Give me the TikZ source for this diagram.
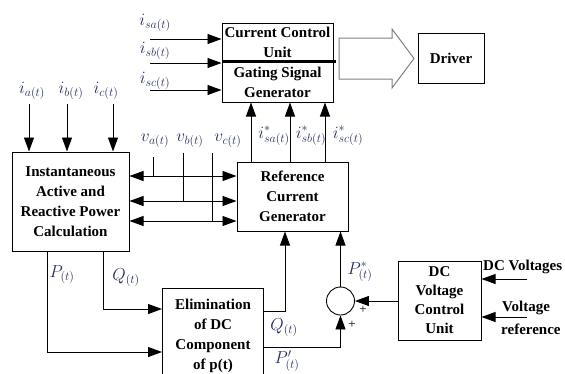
\documentclass[tikz,border=0pt]{standalone}
\usepackage{fontspec}
\setmainfont{Liberation Serif}
\usepackage{xcolor}
\usetikzlibrary{positioning,arrows.meta}
\definecolor{lblblue}{RGB}{35,45,95}

\begin{document}
\begin{tikzpicture}[x=1pt, y=-1pt,
  box/.style={draw, line width=1pt, align=center, inner sep=2pt, font=\fontsize{15}{20}\selectfont\bfseries},
  arrow/.style={-{Triangle[length=14pt,width=10pt]}, line width=0.9pt},
  darrow/.style={{Triangle[length=14pt,width=10pt]}-{Triangle[length=14pt,width=10pt]}, line width=0.9pt},
  lbl/.style={text=lblblue, inner sep=0pt, font=\fontsize{18}{20}\selectfont},
  txt/.style={inner sep=0pt, font=\fontsize{15}{20}\selectfont\bfseries},
]
\useasboundingbox (0,0) rectangle (565,373);
% blocks
\node[box, minimum width=111pt, minimum height=39pt] (ccu) at (277.5,42.5) {Current Control\\Unit};
\node[box, minimum width=111pt, minimum height=40pt] (gsg) at (277.5,82) {Gating Signal\\Generator};
\node[box, minimum width=66pt, minimum height=50pt] (drv) at (451,58) {Driver};
\node[box, minimum width=117pt, minimum height=99pt] (inst) at (70.5,201.5) {Instantaneous\\Active and\\Reactive Power\\Calculation};
\node[box, minimum width=111pt, minimum height=69pt] (ref) at (292.5,196.5) {Reference\\Current\\Generator};
\node[box, minimum width=101pt, minimum height=94pt, anchor=north west] (elim) at (162,288) {Elimination\\of DC\\Component\\of p(t)};
\node[box, minimum width=83pt, minimum height=79pt, font=\fontsize{15}{19}\selectfont\bfseries] (dcv) at (439.5,300.5) {DC\\Voltage\\Control\\Unit};
\node[circle, draw, line width=0.9pt, minimum size=28pt, inner sep=0pt] (sum) at (340.5,301) {};
\draw[line width=2.5pt] (gsg.north west) -- ([xshift=2pt]gsg.north east);
% hollow arrow to driver
\draw[gray, line width=1pt] (339,38) -- (392,38) -- (392,29) -- (414,58.5) -- (392,88) -- (392,79) -- (339,79) -- cycle;

% source currents into current control unit
\foreach \n/\y in {isa/39, isb/63, isc/90} {
  \coordinate (\n) at (150,\y);
  \draw[arrow] (\n) -- (\n -| ccu.west);
}
\node[lbl] (lsa) at (155,23) {$i_{sa(t)}$};
\node[lbl] (lsb) at (155,51) {$i_{sb(t)}$};
\node[lbl] (lsc) at (155,81) {$i_{sc(t)}$};

% load currents
\foreach \n/\x in {ia/29, ib/67, ic/113} {
  \coordinate (\n) at (\x,104);
  \draw[arrow] (\n) -- (\n |- inst.north);
}
\node[lbl] (la) at (32,91) {$i_{a(t)}$};
\node[lbl] (lb) at (71,91) {$i_{b(t)}$};
\node[lbl] (lc) at (106,91) {$i_{c(t)}$};

% voltages
\foreach \k/\y in {1/176, 2/201, 3/221} {
  \coordinate (h\k) at (180,\y);
  \draw[darrow] (h\k -| inst.east) -- (h\k -| ref.west);
}
\coordinate (va) at (153,157);
\coordinate (vb) at (183,153);
\coordinate (vc) at (212,153);
\draw[line width=0.9pt] (va) -- (va |- h1);
\draw[line width=0.9pt] (vb) -- (vb |- h2);
\draw[line width=0.9pt] (vc) -- (vc |- h3);
\node[lbl] (lva) at (155,141) {$v_{a(t)}$};
\node[lbl] (lvb) at (190,141) {$v_{b(t)}$};
\node[lbl] (lvc) at (228,141) {$v_{c(t)}$};

% reference currents
\foreach \n/\x in {rsa/251, rsb/290, rsc/325} {
  \coordinate (\n) at (\x,150);
  \draw[arrow] (\n |- ref.north) -- (\n |- gsg.south);
}
\node[lbl] (lrsa) at (274,136) {$i^{*}_{sa(t)}$};
\node[lbl] (lrsb) at (311,136) {$i^{*}_{sb(t)}$};
\node[lbl] (lrsc) at (348,136) {$i^{*}_{sc(t)}$};

% powers
\coordinate (pl) at (47,352);
\coordinate (ql) at (103,309);
\draw[arrow] (pl |- inst.south) -- (pl) -- (pl -| elim.west);
\draw[arrow] (ql |- inst.south) -- (ql) -- (ql -| elim.west);
\node[lbl] (lp) at (62,275) {$P_{(t)}$};
\node[lbl] (lq) at (126,278) {$Q_{(t)}$};

\coordinate (qo) at (285,311);
\coordinate (po) at (300,347);
\draw[arrow] (qo -| elim.east) -- (qo) -- (qo |- ref.south);
\draw[arrow] (po -| elim.east) -| (sum.south);
\draw[arrow] (sum.north) -- (sum.north |- ref.south);
\draw[arrow] (dcv.west |- sum.east) -- (sum.east);
\node[lbl] (lqo) at (284,328) {$Q_{(t)}$};
\node[lbl] (lpo) at (287,361) {$P^{\prime}_{(t)}$};
\node[lbl] (lps) at (360,272) {$P^{*}_{(t)}$};
\node[inner sep=0pt, font=\fontsize{13}{13}\selectfont] (pa) at (363,310) {+};
\node[inner sep=0pt, font=\fontsize{13}{13}\selectfont] (pb) at (352,325) {+};

% dc voltage inputs
\coordinate (dcin) at (527,279);
\coordinate (vrin) at (527,317);
\draw[arrow] (dcin) -- (dcin -| dcv.east);
\draw[arrow] (vrin) -- (vrin -| dcv.east);
\node[txt, anchor=west] (ldc) at (483,267) {DC Voltages};
\node[txt, anchor=west] (lvr) at (502,308) {Voltage};
\node[txt, anchor=west] (lref) at (501,329) {reference};
\end{tikzpicture}
\end{document}
